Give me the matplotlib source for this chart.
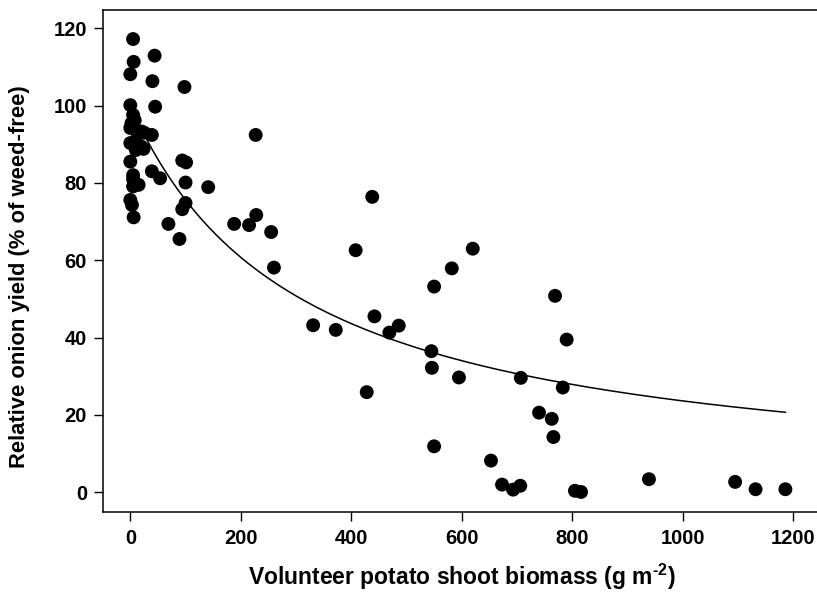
import matplotlib
matplotlib.use('Agg')
import matplotlib.pyplot as plt
import numpy as np

plt.rcParams['font.family'] = ['Liberation Sans', 'DejaVu Sans']
plt.rcParams['font.weight'] = 'bold'
plt.rcParams['mathtext.fontset'] = 'custom'
plt.rcParams['mathtext.rm'] = 'Liberation Sans:bold'
plt.rcParams['mathtext.bf'] = 'Liberation Sans:bold'
plt.rcParams['mathtext.default'] = 'bf'

# observed points: volunteer potato biomass (g m-2) vs relative onion yield (%)
biomass = [5, 44, 6, 0, 40, 98, 0, 45, 5, 8, 2, 0, 20, 25, 39, 0, 10, 20, 10, 24,
           0, 94, 101, 39, 5, 54, 5, 15, 5, 100, 141, 0, 3, 100, 94, 6, 69, 89,
           227, 438, 228, 188, 215, 255, 408, 260, 620, 582, 550, 769, 442, 486,
           469, 331, 372, 428, 790, 545, 546, 595, 707, 783, 740, 763, 766, 550,
           653, 673, 693, 706, 805, 816, 939, 1095, 1132, 1186]
rel_yield = [117.2, 112.9, 111.3, 108.1, 106.3, 104.8, 100.1, 99.7, 97.6, 96.2,
             95.4, 94.2, 93.3, 93.0, 92.4, 90.3, 91.0, 89.4, 88.5, 88.8,
             85.5, 85.8, 85.3, 83.0, 82.0, 81.2, 81.0, 79.5, 79.1, 80.1, 78.9,
             75.6, 74.3, 74.8, 73.2, 71.1, 69.4, 65.5,
             92.4, 76.4, 71.7, 69.4, 69.1, 67.3, 62.6, 58.1, 63.0, 57.9, 53.2,
             50.8, 45.5, 43.1, 41.3, 43.2, 42.0, 25.9, 39.5, 36.5, 32.2, 29.7,
             29.6, 27.1, 20.6, 19.0, 14.3, 11.9, 8.2, 2.0, 0.7, 1.7, 0.4, 0.1,
             3.4, 2.7, 0.8, 0.8]

# fitted rectangular hyperbola (Cousens): initial slope I, asymptote A
I_slope = 0.323
A_max = 100.0
x_fit = np.linspace(0, max(biomass), 300)
y_fit = 100 - I_slope * x_fit / (1 + I_slope * x_fit / A_max)

fig = plt.figure(figsize=(8.17, 6.0), dpi=100)
ax = fig.add_axes([0.1257, 0.1472, 0.8755, 0.8361])

ax.plot(x_fit, y_fit, color='black', linewidth=1.1, zorder=2)
ax.scatter(biomass, rel_yield, s=100, color='black', edgecolors='none', zorder=3)

ax.set_xlim(-50, 1245)
ax.set_ylim(-5, 124.7)
ax.set_xticks(np.arange(0, 1201, 200))
ax.set_yticks(np.arange(0, 121, 20))

for sp in ax.spines.values():
    sp.set_linewidth(1.1)
ax.spines['right'].set_visible(False)

ax.tick_params(direction='out', length=6.3, width=1.0, labelsize=14.5)
ax.tick_params(axis='x', pad=6)
ax.tick_params(axis='y', pad=5)
for lab in ax.get_xticklabels() + ax.get_yticklabels():
    lab.set_fontweight('bold')

ax.set_xlabel(r'Volunteer potato shoot biomass (g m$^{\text{-2}}$)', fontsize=16.5,
              fontweight='bold')
ax.set_ylabel('Relative onion yield (% of weed-free)', fontsize=15.8,
              fontweight='bold')
ax.xaxis.label.set_va('center')
ax.yaxis.label.set_va('center')
ax.xaxis.set_label_coords(0.502, -0.131)
ax.yaxis.set_label_coords(-0.1157, 0.468)

fig.savefig('out.png', dpi=100)
